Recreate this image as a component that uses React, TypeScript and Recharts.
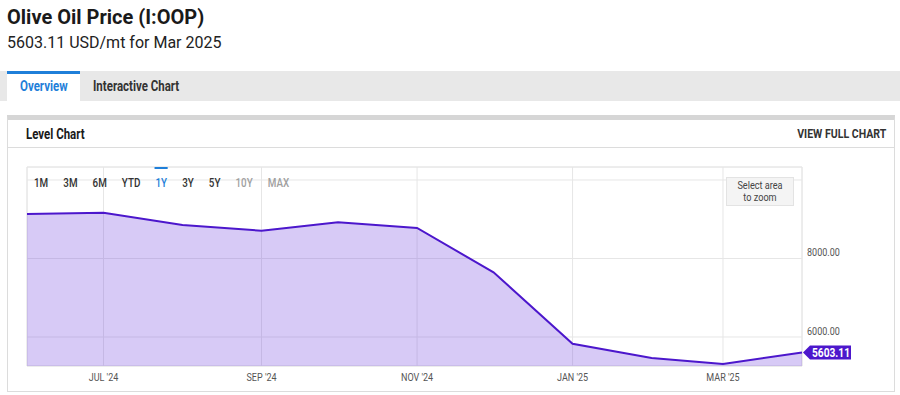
import React from 'react'
import {
  Area,
  AreaChart,
  CartesianGrid,
  ReferenceArea,
  ReferenceDot,
  XAxis,
  YAxis,
} from 'recharts'

// monthly olive oil price, USD/mt
const dates = [
  '2024-06-01',
  '2024-07-01',
  '2024-08-01',
  '2024-09-01',
  '2024-10-01',
  '2024-11-01',
  '2024-12-01',
  '2025-01-01',
  '2025-02-01',
  '2025-03-01',
  '2025-04-01',
]
const prices = [9134, 9167, 8854, 8708, 8922, 8777, 7648, 5829, 5465, 5312, 5603.11]

const xTickDates = ['2024-07-01', '2024-09-01', '2024-11-01', '2025-01-01', '2025-03-01']
const xTickLabels = ["JUL '24", "SEP '24", "NOV '24", "JAN '25", "MAR '25"]
const yTicks = [6000, 8000, 10000]
const yTickLabels = ['6000.00', '8000.00', '']
const ranges = ['1M', '3M', '6M', 'YTD', '1Y', '3Y', '5Y', '10Y', 'MAX']
const activeRange = '1Y'
const disabledRanges = ['10Y', 'MAX']

const ts = (d: string) => Date.parse(d + 'T00:00:00Z')

const data = dates.map((d, i) => ({ t: ts(d), price: prices[i] }))
const xMin = data[0].t
const xMax = data[data.length - 1].t
const yDomain = [5261, 10331]
const last = data[data.length - 1]

const LINE = '#4c17cc'
const GRID = '#e6e6e6'
const FONT = 'Roboto, sans-serif'

const cond = (s = 0.82, origin = 'left center'): React.CSSProperties => ({
  display: 'inline-block',
  transform: `scaleX(${s})`,
  transformOrigin: origin,
  whiteSpace: 'nowrap',
})

function XTick({ x, y, payload }: any) {
  const i = xTickDates.map(ts).indexOf(payload.value)
  return (
    <g transform={`translate(${x},${y + 15}) scale(0.82,1)`}>
      <text textAnchor="middle" fontSize={11} fill="#555" fontFamily={FONT}>
        {xTickLabels[i]}
      </text>
    </g>
  )
}

function YTick({ x, y, payload }: any) {
  const label = yTickLabels[yTicks.indexOf(payload.value)]
  if (!label) return null
  return (
    <g transform={`translate(${x},${y - 2}) scale(0.82,1)`}>
      <text textAnchor="start" fontSize={11} fill="#555" fontFamily={FONT}>
        {label}
      </text>
    </g>
  )
}

function EndLabel({ cx, cy }: any) {
  const x0 = cx + 1
  return (
    <g>
      <polygon
        points={`${x0},${cy} ${x0 + 7},${cy - 7} ${x0 + 48},${cy - 7} ${x0 + 48},${cy + 7} ${x0 + 7},${cy + 7}`}
        fill={LINE}
      />
      <g transform={`translate(${x0 + 28},${cy + 4}) scale(0.85,1)`}>
        <text textAnchor="middle" fontSize={12} fontWeight={700} fill="#fff" fontFamily={FONT}>
          {last.price.toFixed(2)}
        </text>
      </g>
    </g>
  )
}

export default function App() {
  return (
    <div
      style={{
        position: 'absolute',
        left: 0,
        top: 0,
        width: 900,
        height: 395,
        background: '#fff',
        fontFamily: FONT,
        overflow: 'hidden',
      }}
    >
      <div style={{ position: 'absolute', left: 7, top: 7, fontSize: 20, lineHeight: '20px', fontWeight: 700, color: '#1a1a1a' }}>
        Olive Oil Price (I:OOP)
      </div>
      <div style={{ position: 'absolute', left: 7, top: 35, fontSize: 16, lineHeight: '16px', color: '#222' }}>
        5603.11 USD/mt for Mar 2025
      </div>

      {/* tabs */}
      <div style={{ position: 'absolute', left: 0, top: 71, width: 900, height: 30, background: '#e8e8e8' }} />
      <div style={{ position: 'absolute', left: 7, top: 71, width: 73, height: 30, background: '#fff', borderTop: '3px solid #1f7fd9', boxSizing: 'border-box' }} />
      <div style={{ position: 'absolute', left: 20, top: 79, fontSize: 14, lineHeight: '14px', fontWeight: 700, color: '#1f7fd9' }}>
        <span style={cond()}>Overview</span>
      </div>
      <div style={{ position: 'absolute', left: 93, top: 79, fontSize: 14, lineHeight: '14px', fontWeight: 700, color: '#333' }}>
        <span style={cond()}>Interactive Chart</span>
      </div>

      {/* panel */}
      <div
        style={{
          position: 'absolute',
          left: 7,
          top: 115,
          width: 888,
          height: 277,
          borderTop: '5px solid #d6d6d6',
          borderLeft: '1px solid #dcdcdc',
          borderRight: '1px solid #dcdcdc',
          borderBottom: '1px solid #dcdcdc',
          boxSizing: 'border-box',
        }}
      />
      <div style={{ position: 'absolute', left: 8, top: 147, width: 886, height: 1, background: '#dcdcdc' }} />
      <div style={{ position: 'absolute', left: 26, top: 127, fontSize: 14, lineHeight: '14px', fontWeight: 700, color: '#1a1a1a' }}>
        <span style={cond()}>Level Chart</span>
      </div>
      <div style={{ position: 'absolute', right: 14, top: 128, fontSize: 12, lineHeight: '12px', fontWeight: 700, color: '#333', textAlign: 'right' }}>
        <span style={cond(0.88, 'right center')}>VIEW FULL CHART</span>
      </div>

      <div style={{ position: 'absolute', left: 0, top: 149 }}>
        <AreaChart width={895} height={242} data={data} margin={{ top: 18, right: 33, left: 27, bottom: 0 }}>
          <CartesianGrid stroke={GRID} strokeWidth={1} />
          <ReferenceArea x1={xMin} x2={xMax} y1={yDomain[0]} y2={yDomain[1]} fill="none" stroke={GRID} />
          <XAxis
            dataKey="t"
            type="number"
            scale="time"
            domain={[xMin, xMax]}
            ticks={xTickDates.map(ts)}
            axisLine={false}
            tickLine={false}
            tickSize={0}
            tickMargin={0}
            height={25}
            tick={<XTick />}
            interval={0}
          />
          <YAxis
            orientation="right"
            type="number"
            domain={yDomain}
            ticks={yTicks}
            allowDataOverflow
            axisLine={false}
            tickLine={false}
            tickSize={0}
            tickMargin={5}
            width={60}
            tick={<YTick />}
            interval={0}
          />
          <Area
            type="linear"
            dataKey="price"
            stroke={LINE}
            strokeWidth={2}
            fill="#7b4fe0"
            fillOpacity={0.3}
            dot={false}
            activeDot={false}
            isAnimationActive={false}
          />
          <ReferenceDot x={last.t} y={last.price} r={0} shape={<EndLabel />} />
        </AreaChart>
      </div>

      {/* range selector */}
      <div style={{ position: 'absolute', left: 34, top: 177, fontSize: 12, lineHeight: '12px', fontWeight: 500, transform: 'scaleX(0.82)', transformOrigin: 'left center', whiteSpace: 'nowrap' }}>
        {ranges.map((r) => (
          <span
            key={r}
            style={{
              marginRight: 18.4,
              color: r === activeRange ? '#1f7fd9' : disabledRanges.includes(r) ? '#a0a0a0' : '#333',
              position: 'relative',
            }}
          >
            {r}
            {r === activeRange && (
              <span style={{ position: 'absolute', left: -1, right: -1, top: -9, height: 2, background: '#1f7fd9' }} />
            )}
          </span>
        ))}
      </div>

      <div
        style={{
          position: 'absolute',
          left: 726,
          top: 177,
          width: 68,
          height: 29,
          boxSizing: 'border-box',
          background: '#f4f4f4',
          border: '1px solid #e3e3e3',
          fontSize: 11,
          lineHeight: '12px',
          color: '#444',
          textAlign: 'center',
          paddingTop: 2,
        }}
      >
        <div style={{ transform: 'scaleX(0.83)', transformOrigin: 'center' }}>
          Select area
          <br />
          to zoom
        </div>
      </div>
    </div>
  )
}
